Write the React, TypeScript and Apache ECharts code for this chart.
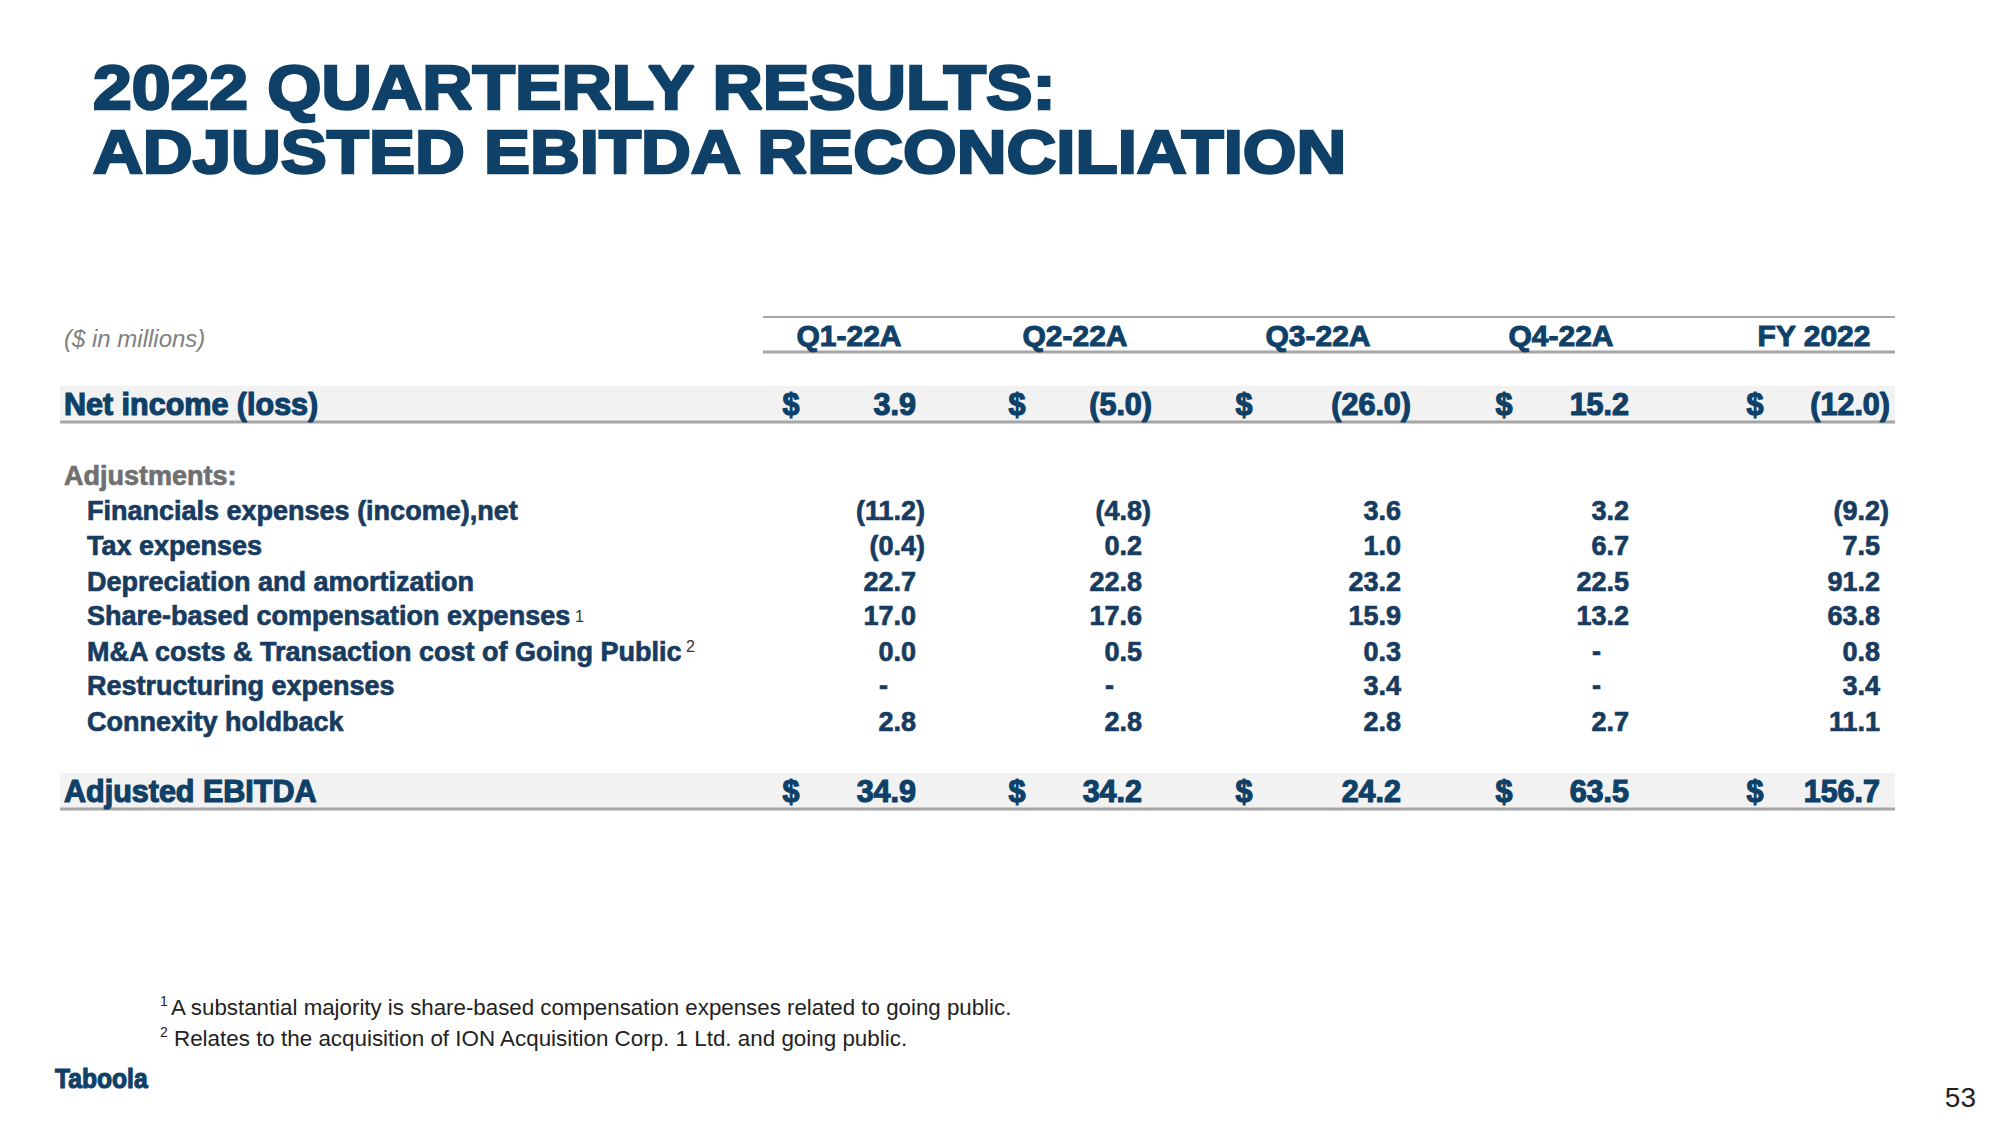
import React, { useEffect, useRef } from "react";
import * as echarts from "echarts";

const titleLines = ["2022 QUARTERLY RESULTS:", "ADJUSTED EBITDA RECONCILIATION"];
const unitsLabel = "($ in millions)";
const columns = ["Q1-22A", "Q2-22A", "Q3-22A", "Q4-22A", "FY 2022"];

const netIncomeLabel = "Net income (loss)";
const netIncome = [3.9, -5.0, -26.0, 15.2, -12.0];

const adjustmentsLabel = "Adjustments:";
const adjLabels = [
  "Financials expenses (income),net",
  "Tax expenses",
  "Depreciation and amortization",
  "Share-based compensation expenses",
  "M&A costs & Transaction cost of Going Public",
  "Restructuring expenses",
  "Connexity holdback",
];
const adjNotes = ["", "", "", "1", "2", "", ""];
const financials = [-11.2, -4.8, 3.6, 3.2, -9.2];
const taxes = [-0.4, 0.2, 1.0, 6.7, 7.5];
const depreciation = [22.7, 22.8, 23.2, 22.5, 91.2];
const shareBased = [17.0, 17.6, 15.9, 13.2, 63.8];
const mnaCosts = [0.0, 0.5, 0.3, null, 0.8];
const restructuring = [null, null, 3.4, null, 3.4];
const connexity = [2.8, 2.8, 2.8, 2.7, 11.1];
const adjValues = [financials, taxes, depreciation, shareBased, mnaCosts, restructuring, connexity];

const ebitdaLabel = "Adjusted EBITDA";
const adjustedEbitda = [34.9, 34.2, 24.2, 63.5, 156.7];

const footnotes = [
  { mark: "1", text: "A substantial majority is share-based compensation expenses related to going public." },
  { mark: "2", text: "Relates to the acquisition of ION Acquisition Corp. 1 Ltd. and going public." },
];
const pageNumber = "53";

// layout
const NAVY = "#0f4168";
const TEXT = "#183c5f";
const FONT = "'Liberation Sans', Arial, sans-serif";
const colCenter = [849, 1075, 1318, 1561, 1814];
const colRight = [916, 1142, 1401, 1629, 1880];
const dollarX = [791, 1017, 1244, 1504, 1755];
const adjRowY = [511, 546, 582, 616, 652, 686, 722];

function fmt(v: number | null): string {
  if (v === null || v === undefined) return "-";
  if (v < 0) return "(" + Math.abs(v).toFixed(1) + ")";
  return v.toFixed(1);
}

function valX(v: number | null, i: number, paren: number): number {
  if (v === null || v === undefined) return colRight[i] - 28;
  if (v < 0) return colRight[i] + paren;
  return colRight[i];
}

function txt(x: number, y: number, text: string, opts: any = {}) {
  const { scaleX, ...style } = opts;
  const el: any = {
    type: "text",
    x,
    y,
    silent: true,
    style: {
      text,
      fontFamily: FONT,
      fontSize: 27,
      fontWeight: "bold",
      fill: TEXT,
      stroke: TEXT,
      lineWidth: 0.7,
      align: "left",
      verticalAlign: "middle",
      ...style,
    },
  };
  if (scaleX) el.scaleX = scaleX;
  return el;
}

function buildGraphic() {
  const g: any[] = [];
  // title
  const titleStyle = { fontSize: 62, fill: NAVY, stroke: NAVY, lineWidth: 2.5 };
  g.push(txt(93, 87, titleLines[0], { ...titleStyle, scaleX: 1.124 }));
  g.push(txt(93, 152, titleLines[1], { ...titleStyle, scaleX: 1.113 }));

  // header lines
  g.push({ type: "line", silent: true, shape: { x1: 763, y1: 317, x2: 1895, y2: 317 }, style: { stroke: "#a6a6a6", lineWidth: 2 } });
  g.push({ type: "line", silent: true, shape: { x1: 763, y1: 352, x2: 1895, y2: 352 }, style: { stroke: "#a6a6a6", lineWidth: 3 } });
  g.push(txt(64, 338, unitsLabel, { fontSize: 24, fontWeight: "normal", fontStyle: "italic", fill: "#808080", lineWidth: 0 }));
  columns.forEach((c, i) => {
    g.push(txt(colCenter[i], 335, c, { fontSize: 30, fill: NAVY, stroke: NAVY, lineWidth: 1, align: "center" }));
  });

  // total rows
  const totalRow = (y: number, label: string, vals: number[]) => {
    g.push({ type: "rect", silent: true, shape: { x: 60, y: y - 18, width: 1835, height: 35 }, style: { fill: "#f2f2f2" } });
    g.push({ type: "line", silent: true, shape: { x1: 60, y1: y + 18, x2: 1895, y2: y + 18 }, style: { stroke: "#a6a6a6", lineWidth: 3 } });
    const s = { fontSize: 30.5, fill: NAVY, stroke: NAVY, lineWidth: 1.2 };
    g.push(txt(64, y, label, s));
    vals.forEach((v, i) => {
      g.push(txt(dollarX[i], y, "$", { ...s, align: "center" }));
      g.push(txt(valX(v, i, 10), y, fmt(v), { ...s, align: "right" }));
    });
  };
  totalRow(404, netIncomeLabel, netIncome);

  // adjustments
  g.push(txt(64, 476, adjustmentsLabel, { fill: "#707070", stroke: "#707070" }));
  adjLabels.forEach((label, r) => {
    const y = adjRowY[r];
    g.push(txt(87, y, label));
    adjValues[r].forEach((v, i) => {
      g.push(txt(valX(v as any, i, 9), y, fmt(v as any), { align: "right" }));
    });
  });
  // superscript notes
  g.push(txt(575, 616, adjNotes[3], { fontSize: 16, fontWeight: "normal", fill: "#333", lineWidth: 0 }));
  g.push(txt(686, 646, adjNotes[4], { fontSize: 16, fontWeight: "normal", fill: "#333", lineWidth: 0 }));

  totalRow(791, ebitdaLabel, adjustedEbitda);

  // footnotes
  const fnY = [1007, 1038];
  const fnSize = [22.3, 22.4];
  footnotes.forEach((f, i) => {
    g.push(txt(160, fnY[i] - 6, f.mark, { fontSize: 14, fontWeight: "normal", fill: "#222", lineWidth: 0 }));
    g.push(txt(i === 0 ? 171 : 174, fnY[i], f.text, { fontSize: fnSize[i], fontWeight: "normal", fill: "#222", lineWidth: 0 }));
  });

  // logo
  g.push(txt(55, 1078, "Taboola", { fontSize: 28, fill: NAVY, stroke: NAVY, lineWidth: 1.2, scaleX: 0.88 }));
  // page number
  g.push(txt(1976, 1097, pageNumber, { fontSize: 28, fontWeight: "normal", fill: "#222", lineWidth: 0, align: "right" }));
  return g;
}

export default function App() {
  const ref = useRef<HTMLDivElement>(null);
  useEffect(() => {
    document.body.style.margin = "0";
    const chart = echarts.init(ref.current!, null, { renderer: "svg" });
    chart.setOption({
      animation: false,
      backgroundColor: "#ffffff",
      graphic: { elements: buildGraphic() },
    });
    return () => chart.dispose();
  }, []);
  return <div ref={ref} style={{ width: 2000, height: 1125 }} />;
}
